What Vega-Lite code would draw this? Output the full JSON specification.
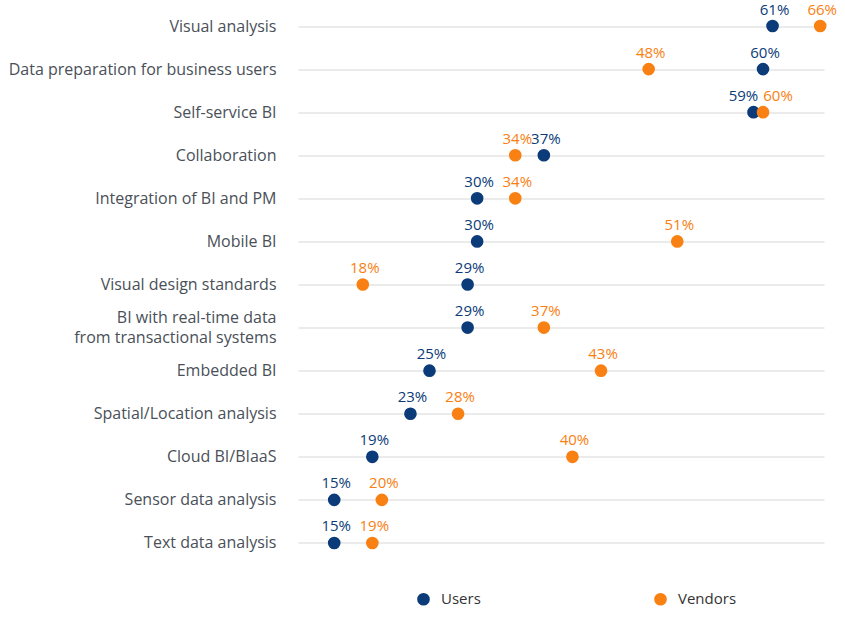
{
  "$schema": "https://vega.github.io/schema/vega-lite/v6.json",
  "width": 526,
  "height": 560,
  "autosize": "none",
  "padding": {"left": 298, "top": 4.5, "right": 21, "bottom": 70.5},
  "background": "white",
  "config": {
    "view": {"stroke": null},
    "font": "Open Sans"
  },
  "data": {
    "values": [
      {"category": "Visual analysis", "group": "Users", "value": 0.61},
      {"category": "Visual analysis", "group": "Vendors", "value": 0.66},
      {"category": "Data preparation for business users", "group": "Users", "value": 0.60},
      {"category": "Data preparation for business users", "group": "Vendors", "value": 0.48},
      {"category": "Self-service BI", "group": "Users", "value": 0.59},
      {"category": "Self-service BI", "group": "Vendors", "value": 0.60},
      {"category": "Collaboration", "group": "Users", "value": 0.37},
      {"category": "Collaboration", "group": "Vendors", "value": 0.34},
      {"category": "Integration of BI and PM", "group": "Users", "value": 0.30},
      {"category": "Integration of BI and PM", "group": "Vendors", "value": 0.34},
      {"category": "Mobile BI", "group": "Users", "value": 0.30},
      {"category": "Mobile BI", "group": "Vendors", "value": 0.51},
      {"category": "Visual design standards", "group": "Users", "value": 0.29},
      {"category": "Visual design standards", "group": "Vendors", "value": 0.18},
      {"category": "BI with real-time data|from transactional systems", "group": "Users", "value": 0.29},
      {"category": "BI with real-time data|from transactional systems", "group": "Vendors", "value": 0.37},
      {"category": "Embedded BI", "group": "Users", "value": 0.25},
      {"category": "Embedded BI", "group": "Vendors", "value": 0.43},
      {"category": "Spatial/Location analysis", "group": "Users", "value": 0.23},
      {"category": "Spatial/Location analysis", "group": "Vendors", "value": 0.28},
      {"category": "Cloud BI/BIaaS", "group": "Users", "value": 0.19},
      {"category": "Cloud BI/BIaaS", "group": "Vendors", "value": 0.40},
      {"category": "Sensor data analysis", "group": "Users", "value": 0.15},
      {"category": "Sensor data analysis", "group": "Vendors", "value": 0.20},
      {"category": "Text data analysis", "group": "Users", "value": 0.15},
      {"category": "Text data analysis", "group": "Vendors", "value": 0.19}
    ]
  },
  "encoding": {
    "y": {
      "field": "category",
      "type": "nominal",
      "sort": null,
      "scale": {"type": "point", "padding": 0.5},
      "axis": {
        "title": null,
        "domain": false,
        "ticks": false,
        "grid": true,
        "gridColor": "#e4e4e4",
        "gridWidth": 1.5,
        "labelPadding": 22,
        "labelFontSize": 16,
        "labelColor": "#4a5058",
        "labelLineHeight": 20,
        "labelLimit": 400,
        "labelOffset": {"condition": {"test": "indexof(datum.label, '|') >= 0", "value": -10}, "value": 0},
        "labelExpr": "split(datum.label, '|')"
      }
    },
    "x": {
      "field": "value",
      "type": "quantitative",
      "scale": {"domain": [0.112, 0.664], "nice": false, "zero": false},
      "axis": null
    },
    "color": {
      "field": "group",
      "type": "nominal",
      "scale": {"domain": ["Users", "Vendors"], "range": ["#0b3b78", "#f98012"]},
      "legend": {
        "title": null,
        "orient": "none",
        "direction": "horizontal",
        "legendX": 118,
        "legendY": 587,
        "symbolType": "circle",
        "symbolSize": 160,
        "symbolOpacity": 1,
        "symbolStrokeWidth": 0,
        "labelFontSize": 15,
        "labelColor": "#333333",
        "labelOffset": 10,
        "columnPadding": 172,
        "padding": 0
      }
    }
  },
  "layer": [
    {
      "mark": {"type": "circle", "size": 160, "opacity": 1}
    },
    {
      "transform": [{"filter": "datum.category != 'Self-service BI'"}],
      "mark": {"type": "text", "fontSize": 15, "dy": -16.5, "dx": 2, "baseline": "middle"},
      "encoding": {"text": {"field": "value", "type": "quantitative", "format": ".0%"}}
    },
    {
      "transform": [{"filter": "datum.category == 'Self-service BI' && datum.group == 'Users'"}],
      "mark": {"type": "text", "fontSize": 15, "dy": -16.5, "dx": -10, "baseline": "middle"},
      "encoding": {"text": {"field": "value", "type": "quantitative", "format": ".0%"}}
    },
    {
      "transform": [{"filter": "datum.category == 'Self-service BI' && datum.group == 'Vendors'"}],
      "mark": {"type": "text", "fontSize": 15, "dy": -16.5, "dx": 15, "baseline": "middle"},
      "encoding": {"text": {"field": "value", "type": "quantitative", "format": ".0%"}}
    }
  ]
}
